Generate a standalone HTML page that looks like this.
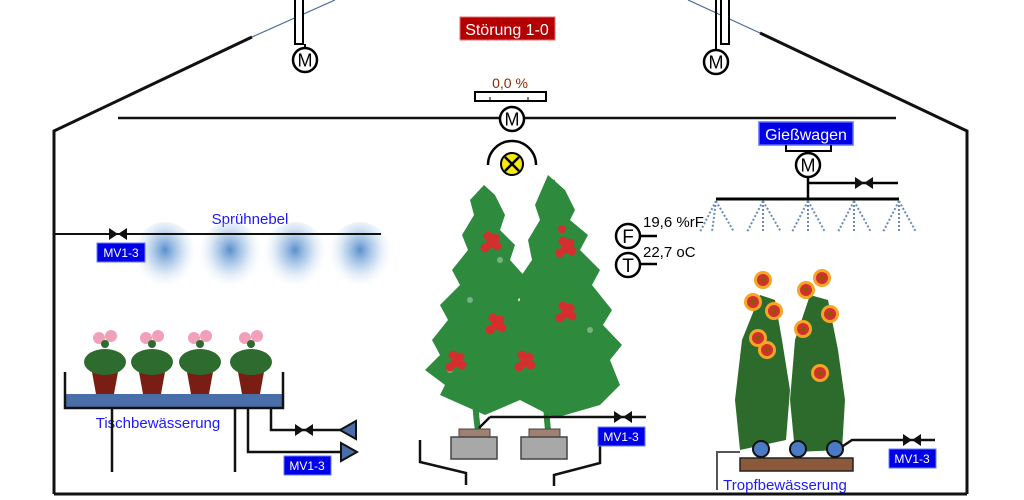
<!DOCTYPE html>
<html><head><meta charset="utf-8"><style>
html,body{margin:0;padding:0;background:#fff;}
svg{display:block;font-family:"Liberation Sans",sans-serif;}
</style></head><body>
<svg width="1024" height="500" viewBox="0 0 1024 500" xmlns="http://www.w3.org/2000/svg">
<defs>
<radialGradient id="mist" cx="50%" cy="35%" r="50%">
<stop offset="0" stop-color="#3a7bc4" stop-opacity="0.85"/>
<stop offset="0.45" stop-color="#7aa8da" stop-opacity="0.45"/>
<stop offset="1" stop-color="#ffffff" stop-opacity="0"/>
</radialGradient>
<g id="valve"><polygon points="-9,-6 0,0 -9,6" fill="#111"/><polygon points="9,-6 0,0 9,6" fill="#111"/></g>
<g id="motor"><circle r="12" fill="#fff" stroke="#000" stroke-width="2.5"/><text y="6.5" text-anchor="middle" font-size="18" fill="#000">M</text></g>
<g id="tom" fill="#d32f2f"><circle cx="0" cy="0" r="4.5"/><circle cx="7" cy="2" r="4.5"/><circle cx="2" cy="8" r="4.5"/><circle cx="9" cy="10" r="4.5"/><circle cx="-3" cy="12" r="4.5"/></g>
<g id="flw"><circle r="9" fill="#f5a623"/><circle r="6" fill="#d32f2f"/><circle r="2.5" fill="#8a5a00"/></g>
</defs>

<polyline points="54,494 54,131 252,37" fill="none" stroke="#111" stroke-width="3"/>
<line x1="252" y1="37" x2="335" y2="0" stroke="#4a6a9a" stroke-width="1.2"/>
<line x1="688" y1="0" x2="760" y2="33" stroke="#4a6a9a" stroke-width="1.2"/>
<polyline points="760,33 967,131 967,494" fill="none" stroke="#111" stroke-width="3"/>
<line x1="54" y1="494" x2="967" y2="494" stroke="#111" stroke-width="3"/>

<rect x="295" y="-2" width="8" height="46" fill="#fff" stroke="#000" stroke-width="2"/>
<line x1="305" y1="44" x2="305" y2="50" stroke="#000" stroke-width="2"/>
<use href="#motor" x="305" y="60"/>
<rect x="721" y="-2" width="8" height="46" fill="#fff" stroke="#000" stroke-width="2"/>
<line x1="716" y1="0" x2="716" y2="50" stroke="#000" stroke-width="2"/>
<use href="#motor" x="716" y="62"/>

<rect x="460" y="17" width="95" height="23" fill="#b40000" stroke="#e07070" stroke-width="1"/>
<text x="507" y="35" text-anchor="middle" font-size="16" fill="#fff">Störung 1-0</text>

<text x="510" y="88" text-anchor="middle" font-size="14" fill="#8b2a00">0,0 %</text>
<rect x="475" y="92" width="71" height="9" fill="#fff" stroke="#000" stroke-width="2"/>
<line x1="490" y1="97" x2="490" y2="101" stroke="#000"/><line x1="528" y1="97" x2="528" y2="101" stroke="#000"/>
<line x1="118" y1="118" x2="896" y2="118" stroke="#111" stroke-width="2.5"/>
<use href="#motor" x="512" y="119"/>
<path d="M 488 165 A 24 24 0 0 1 536 165" fill="none" stroke="#000" stroke-width="2.5"/>
<circle cx="512" cy="164" r="11" fill="#f4ea10" stroke="#000" stroke-width="2"/>
<line x1="505" y1="157" x2="519" y2="171" stroke="#000" stroke-width="2.5"/><line x1="519" y1="157" x2="505" y2="171" stroke="#000" stroke-width="2.5"/>

<rect x="759" y="122" width="94" height="23" fill="#0000e6" stroke="#5a6cff" stroke-width="1.5"/>
<text x="806" y="140" text-anchor="middle" font-size="16" fill="#fff">Gießwagen</text>
<polyline points="786,145 786,151 831,151 831,145" fill="none" stroke="#000" stroke-width="2"/>
<use href="#motor" x="808" y="165"/>
<line x1="808" y1="177" x2="808" y2="199" stroke="#000" stroke-width="2.5"/>
<line x1="808" y1="183" x2="898" y2="183" stroke="#000" stroke-width="2.5"/>
<use href="#valve" x="864" y="183"/>
<line x1="716" y1="199" x2="899" y2="199" stroke="#000" stroke-width="3"/>
<g stroke="#6a8ab8" stroke-width="2" stroke-dasharray="2,2" fill="none">
<path d="M716,201 L700,232 M716,201 L712,232 M716,201 L734,232"/>
<path d="M763,201 L747,232 M763,201 L763,232 M763,201 L781,232"/>
<path d="M808,201 L792,232 M808,201 L808,232 M808,201 L825,232"/>
<path d="M854,201 L838,232 M854,201 L854,232 M854,201 L871,232"/>
<path d="M899,201 L883,232 M899,201 L899,232 M899,201 L916,232"/>
</g>

<circle cx="628" cy="236" r="12" fill="#fff" stroke="#000" stroke-width="2.5"/>
<text x="628" y="243" text-anchor="middle" font-size="19">F</text>
<line x1="640" y1="236" x2="657" y2="236" stroke="#000" stroke-width="2.5"/>
<text x="643" y="227" font-size="15" fill="#000">19,6 %rF</text>
<circle cx="628" cy="265" r="12" fill="#fff" stroke="#000" stroke-width="2.5"/>
<text x="628" y="272" text-anchor="middle" font-size="19">T</text>
<line x1="640" y1="264" x2="657" y2="264" stroke="#000" stroke-width="2.5"/>
<text x="643" y="257" font-size="15" fill="#000">22,7 oC</text>

<text x="250" y="224" text-anchor="middle" font-size="15" fill="#1a1aff">Sprühnebel</text>
<ellipse cx="165" cy="262" rx="34" ry="40" fill="url(#mist)"/>
<ellipse cx="230" cy="262" rx="34" ry="40" fill="url(#mist)"/>
<ellipse cx="295" cy="262" rx="34" ry="40" fill="url(#mist)"/>
<ellipse cx="360" cy="262" rx="34" ry="40" fill="url(#mist)"/>
<line x1="54" y1="234" x2="381" y2="234" stroke="#111" stroke-width="2"/>
<use href="#valve" x="118" y="234"/>
<rect x="97" y="243" width="48" height="19" fill="#0000e6" stroke="#6a7cff"/>
<text x="121" y="257" text-anchor="middle" font-size="12" fill="#fff">MV1-3</text>

<rect x="66" y="394" width="216" height="13" fill="#4a6fa8"/>
<polyline points="65,372 65,408 283,408 283,372" fill="none" stroke="#111" stroke-width="2.5"/>
<g>
<g transform="translate(105,0)"><polygon points="-13,372 13,372 9,394 -9,394" fill="#7a1e14"/><ellipse cx="0" cy="362" rx="21" ry="13" fill="#2e6b2e"/><circle cx="-6" cy="338" r="6" fill="#f0a0b8"/><circle cx="6" cy="336" r="6" fill="#f0a0b8"/><circle cx="0" cy="344" r="4" fill="#2e6b2e"/></g>
<g transform="translate(152,0)"><polygon points="-13,372 13,372 9,394 -9,394" fill="#7a1e14"/><ellipse cx="0" cy="362" rx="21" ry="13" fill="#2e6b2e"/><circle cx="-6" cy="338" r="6" fill="#f0a0b8"/><circle cx="6" cy="336" r="6" fill="#f0a0b8"/><circle cx="0" cy="344" r="4" fill="#2e6b2e"/></g>
<g transform="translate(200,0)"><polygon points="-13,372 13,372 9,394 -9,394" fill="#7a1e14"/><ellipse cx="0" cy="362" rx="21" ry="13" fill="#2e6b2e"/><circle cx="-6" cy="338" r="6" fill="#f0a0b8"/><circle cx="6" cy="336" r="6" fill="#f0a0b8"/><circle cx="0" cy="344" r="4" fill="#2e6b2e"/></g>
<g transform="translate(251,0)"><polygon points="-13,372 13,372 9,394 -9,394" fill="#7a1e14"/><ellipse cx="0" cy="362" rx="21" ry="13" fill="#2e6b2e"/><circle cx="-6" cy="338" r="6" fill="#f0a0b8"/><circle cx="6" cy="336" r="6" fill="#f0a0b8"/><circle cx="0" cy="344" r="4" fill="#2e6b2e"/></g>
</g>
<text x="158" y="428" text-anchor="middle" font-size="15" fill="#1a1aff">Tischbewässerung</text>
<g stroke="#111" stroke-width="2.5" fill="none">
<line x1="112" y1="408" x2="112" y2="472"/><line x1="235" y1="408" x2="235" y2="472"/>
<polyline points="248,408 248,452 342,452"/>
<polyline points="271,408 271,430 345,430"/>
</g>
<use href="#valve" x="304" y="430"/>
<polygon points="340,430 356,421 356,439" fill="#4a6fa8" stroke="#111" stroke-width="2"/>
<polygon points="341,443 357,452 341,461" fill="#4a6fa8" stroke="#111" stroke-width="2"/>
<rect x="284" y="456" width="47" height="19" fill="#0000e6" stroke="#6a7cff"/>
<text x="307" y="470" text-anchor="middle" font-size="12" fill="#fff">MV1-3</text>

<g fill="#2e8b3e">
<path d="M484,185 L495,195 L505,215 L500,230 L515,245 L510,260 L528,280 L518,300 L530,320 L522,335 L535,370 L520,400 L485,415 L440,395 L445,385 L425,370 L440,355 L432,340 L448,320 L440,305 L460,285 L452,270 L468,250 L462,235 L474,215 L470,200 Z"/>
<path d="M548,175 L565,190 L575,210 L570,220 L588,235 L580,250 L600,270 L592,285 L612,310 L603,325 L622,345 L610,360 L620,385 L600,405 L555,418 L520,400 L505,365 L512,340 L505,320 L520,300 L515,285 L532,260 L528,240 L540,220 L535,205 Z"/>
</g>
<g stroke="#2e8b3e" stroke-width="6" fill="none">
<path d="M478,430 C470,380 478,300 484,190"/><path d="M548,430 C540,360 560,290 552,180"/>
</g>
<g fill="#fff" opacity="0.35">
<circle cx="470" cy="300" r="3"/><circle cx="500" cy="260" r="3"/><circle cx="590" cy="330" r="3"/><circle cx="450" cy="370" r="3"/><circle cx="565" cy="250" r="3"/>
</g>
<use href="#tom" x="488" y="236"/><use href="#tom" x="453" y="355"/><use href="#tom" x="493" y="318"/>
<use href="#tom" x="563" y="241"/><use href="#tom" x="563" y="306"/><use href="#tom" x="522" y="355"/>
<circle cx="562" cy="229" r="4" fill="#d32f2f"/><circle cx="490" cy="238" r="4" fill="#d32f2f"/>
<line x1="490" y1="417" x2="646" y2="417" stroke="#111" stroke-width="2.5"/>
<polyline points="479,428 490,417" fill="none" stroke="#111" stroke-width="2.5"/>
<use href="#valve" x="623" y="417"/>
<rect x="459" y="429" width="31" height="8" fill="#a08070" stroke="#444"/>
<rect x="451" y="437" width="46" height="22" fill="#a8a8a8" stroke="#444" stroke-width="1.5"/>
<rect x="529" y="429" width="31" height="8" fill="#a08070" stroke="#444"/>
<rect x="521" y="437" width="46" height="22" fill="#a8a8a8" stroke="#444" stroke-width="1.5"/>
<polyline points="420,440 420,462 466,473 466,485" fill="none" stroke="#111" stroke-width="2.5"/>
<polyline points="600,445 600,463 554,475 554,486" fill="none" stroke="#111" stroke-width="2.5"/>
<rect x="598" y="427" width="47" height="19" fill="#0000e6" stroke="#6a7cff"/>
<text x="621" y="441" text-anchor="middle" font-size="12" fill="#fff">MV1-3</text>

<g fill="#2d6b2d">
<path d="M760,295 L775,300 L782,340 L790,390 L786,440 L740,450 L735,400 L742,340 Z"/>
<path d="M810,295 L828,300 L838,350 L845,400 L842,450 L795,452 L790,400 L795,340 Z"/>
</g>
<use href="#flw" x="763" y="280"/><use href="#flw" x="753" y="302"/><use href="#flw" x="774" y="311"/><use href="#flw" x="758" y="338"/><use href="#flw" x="767" y="350"/>
<use href="#flw" x="822" y="278"/><use href="#flw" x="806" y="290"/><use href="#flw" x="830" y="314"/><use href="#flw" x="803" y="329"/><use href="#flw" x="820" y="373"/>
<polyline points="717,490 717,452 740,452 M853,452 876,452 876,490" fill="none" stroke="#555" stroke-width="2"/>
<rect x="740" y="458" width="113" height="13" fill="#8a5a3a" stroke="#222" stroke-width="1.5"/>
<circle cx="761" cy="449" r="8" fill="#4a7ac4" stroke="#111" stroke-width="2"/>
<circle cx="798" cy="449" r="8" fill="#4a7ac4" stroke="#111" stroke-width="2"/>
<circle cx="835" cy="449" r="8" fill="#4a7ac4" stroke="#111" stroke-width="2"/>
<polyline points="843,446 852,440 935,440" fill="none" stroke="#111" stroke-width="2.5"/>
<use href="#valve" x="912" y="440"/>
<rect x="889" y="449" width="47" height="19" fill="#0000e6" stroke="#6a7cff"/>
<text x="912" y="463" text-anchor="middle" font-size="12" fill="#fff">MV1-3</text>
<text x="785" y="490" text-anchor="middle" font-size="15" fill="#1a1aff">Tropfbewässerung</text>
</svg>
</body></html>
